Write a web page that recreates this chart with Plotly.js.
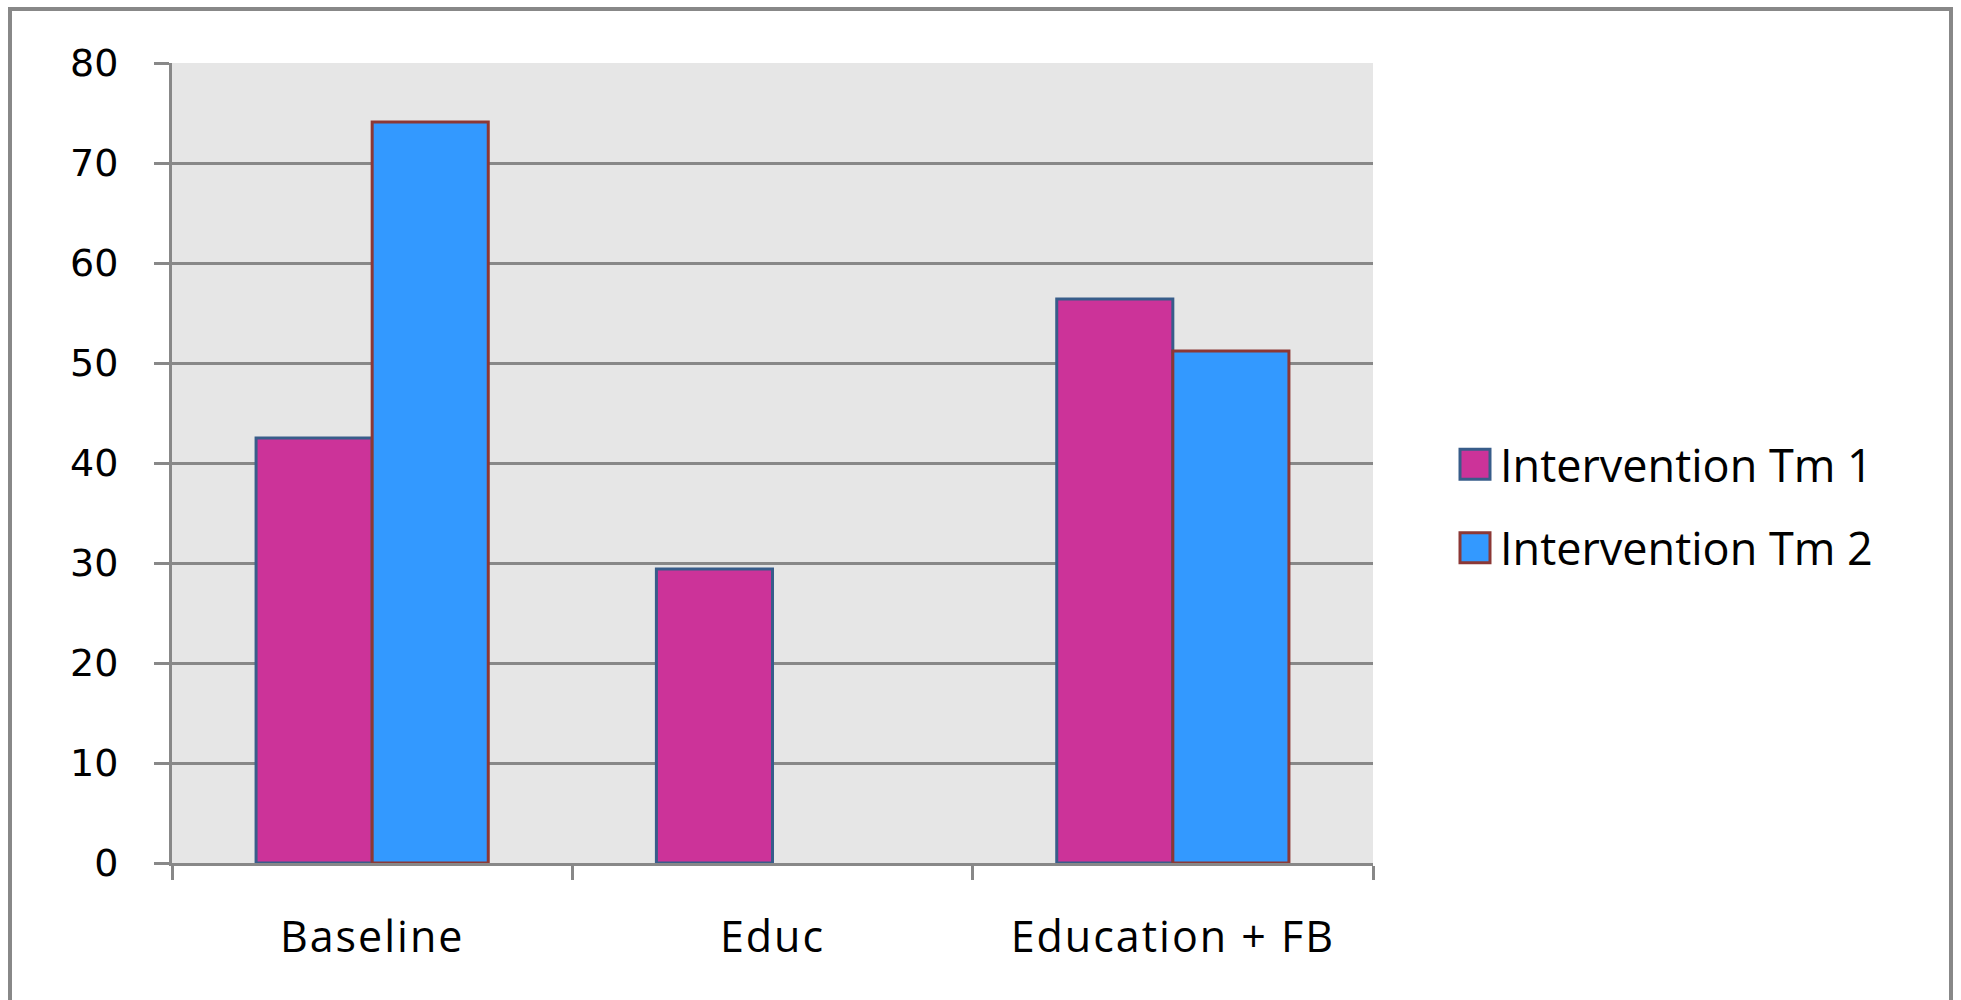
<!DOCTYPE html>
<html>
<head>
<meta charset="utf-8">
<script src="https://cdn.plot.ly/plotly-3.0.1.min.js"></script>
<style>
html, body { margin: 0; padding: 0; background: #fff; }
#chart { width: 1961px; height: 1000px; }
#chart .xtick text { letter-spacing: 2px; }
</style>
</head>
<body>
<div id="chart"></div>
<script>
// ---- data ----
const categories = ["Baseline", "Educ", "Education + FB"];
const seriesNames = ["Intervention Tm 1", "Intervention Tm 2"];
const tm1Values = [42.5, 29.4, 56.4];
const tm2Values = [74.1, null, 51.2];
const yTickValues = [0, 10, 20, 30, 40, 50, 60, 70, 80];

// ---- styling ----
const gridGray = "#888888";
const tm1Fill = "#CC3399", tm1Line = "#385D8A";
const tm2Fill = "#3399FF", tm2Line = "#8C3836";

const plotL = 172, plotR = 1373, plotT = 63, plotB = 863;
const W = 1961, H = 1000;
const pw = plotR - plotL, ph = plotB - plotT;
function px2paperX(x) { return (x - plotL) / pw; }
function px2paperY(y) { return (plotB - y) / ph; }

const traces = [
  {
    type: "bar", name: seriesNames[0], x: categories, y: tm1Values,
    legendgroup: "a",
    marker: { color: tm1Fill, line: { color: tm1Line, width: 3 } },
    hoverinfo: "x+y+name"
  },
  {
    type: "bar", name: seriesNames[1], x: categories, y: tm2Values,
    legendgroup: "b",
    marker: { color: tm2Fill, line: { color: tm2Line, width: 3 } },
    hoverinfo: "x+y+name"
  }
];

const layout = {
  width: W, height: H,
  margin: { l: plotL, r: W - plotR, t: plotT, b: H - plotB, pad: 0 },
  paper_bgcolor: "#ffffff",
  plot_bgcolor: "#E6E6E6",
  barmode: "group",
  bargap: 0.42,
  bargroupgap: 0,
  showlegend: true,
  legend: {
    x: px2paperX(1450), xanchor: "left",
    y: px2paperY(506), yanchor: "middle",
    traceorder: "grouped",
    tracegroupgap: 22,
    itemwidth: 40,
    font: { family: "Open Sans, Noto Sans, sans-serif", size: 45, color: "#000" },
    bgcolor: "rgba(0,0,0,0)", borderwidth: 0
  },
  xaxis: {
    type: "category",
    tickson: "boundaries",
    ticks: "outside", ticklen: 14, tickwidth: 3, tickcolor: gridGray,
    showline: true, linecolor: gridGray, linewidth: 3,
    showgrid: false, zeroline: false,
    tickfont: { family: "Open Sans, Noto Sans, sans-serif", size: 43, color: "#000" },
    ticklabelstandoff: 34,
    fixedrange: true
  },
  yaxis: {
    range: [0, 80],
    tickvals: yTickValues,
    ticktext: yTickValues.map(String),
    ticks: "outside", ticklen: 15, tickwidth: 3, tickcolor: gridGray,
    showline: true, linecolor: gridGray, linewidth: 3,
    showgrid: true, gridcolor: gridGray, gridwidth: 3,
    zeroline: false,
    tickfont: { family: "DejaVu Sans, Verdana, sans-serif", size: 38, color: "#000" },
    ticklabelstandoff: 28,
    fixedrange: true
  },
  shapes: [
    {
      type: "rect", xref: "paper", yref: "paper",
      x0: px2paperX(10), x1: px2paperX(1951),
      y0: px2paperY(1010), y1: px2paperY(9),
      line: { color: gridGray, width: 4 }, fillcolor: "rgba(0,0,0,0)",
      layer: "below"
    }
  ]
};

Plotly.newPlot("chart", traces, layout, { displayModeBar: false }).then(function (gd) {
  // enlarge legend swatches to match the reference
  gd.querySelectorAll(".legend .legendpoints path").forEach(function (p) {
    p.setAttribute("d", "M15,15H-15V-15H15Z");
    p.style.strokeWidth = "3px";
  });
});
</script>
</body>
</html>
